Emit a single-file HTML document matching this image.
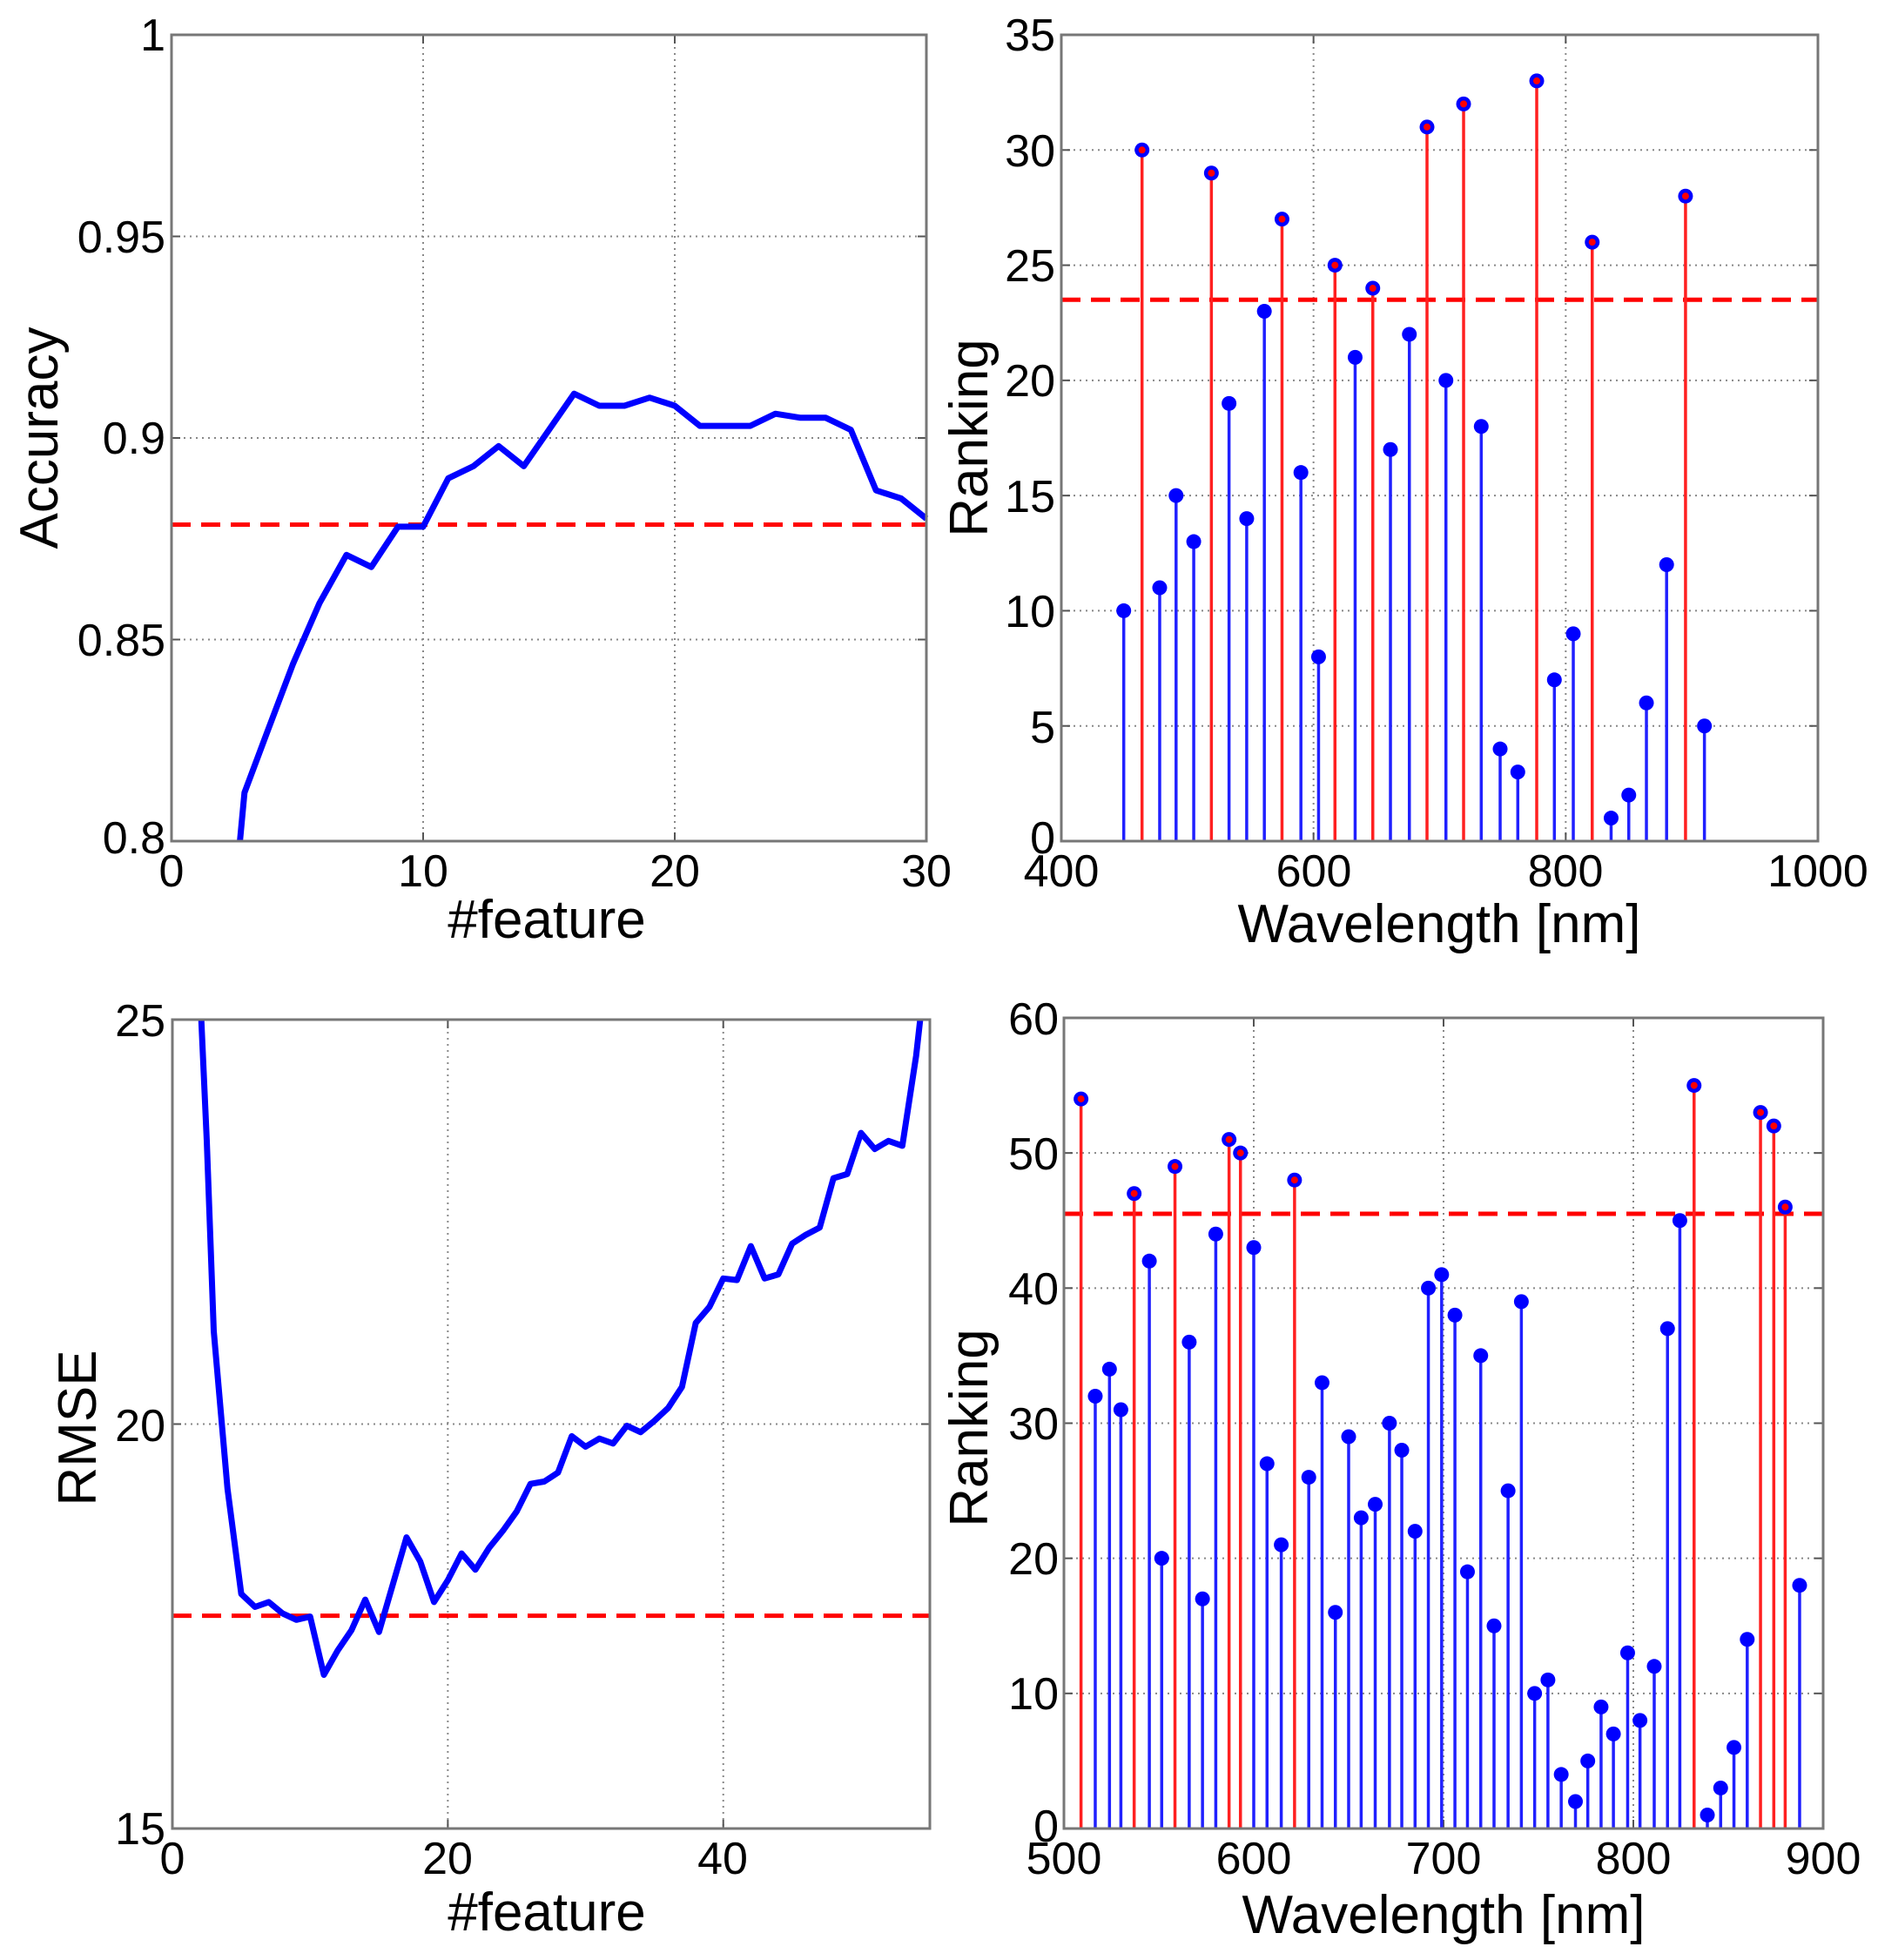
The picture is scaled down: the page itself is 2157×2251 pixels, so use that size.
<!DOCTYPE html>
<html><head><meta charset="utf-8"><style>
html,body{margin:0;padding:0;background:#fff}
svg{display:block}
text{font-family:"Liberation Sans",Arial,sans-serif;fill:#000}
.t{font-size:52px}
.l{font-size:62px}
</style></head><body>
<svg id="s" width="2157" height="2251" viewBox="0 0 2157 2251" xmlns="http://www.w3.org/2000/svg">
<rect width="2157" height="2251" fill="#fff"/>
<g id="g"></g>
<g class="t" text-anchor="end">
<text x="190" y="58">1</text>
<text x="190" y="290">0.95</text>
<text x="190" y="521">0.9</text>
<text x="190" y="753">0.85</text>
<text x="190" y="980">0.8</text>
</g>
<g class="t" text-anchor="middle">
<text x="197" y="1018">0</text><text x="486" y="1018">10</text><text x="775" y="1018">20</text><text x="1064" y="1018">30</text>
</g>
<text class="l" text-anchor="middle" transform="translate(66,503) rotate(-90)">Accuracy</text>
<text class="l" text-anchor="middle" x="628" y="1077">#feature</text>
<g class="t" text-anchor="end">
<text x="1212" y="58">35</text><text x="1212" y="191">30</text><text x="1212" y="323">25</text><text x="1212" y="455">20</text>
<text x="1212" y="588">15</text><text x="1212" y="720">10</text><text x="1212" y="853">5</text><text x="1212" y="980">0</text>
</g>
<g class="t" text-anchor="middle">
<text x="1219" y="1018">400</text><text x="1509" y="1018">600</text><text x="1798" y="1018">800</text><text x="2088" y="1018">1000</text>
</g>
<text class="l" text-anchor="middle" transform="translate(1134,503) rotate(-90)">Ranking</text>
<text class="l" text-anchor="middle" x="1653" y="1082">Wavelength [nm]</text>
<g class="t" text-anchor="end">
<text x="190" y="1190">25</text><text x="190" y="1655">20</text><text x="190" y="2118">15</text>
</g>
<g class="t" text-anchor="middle">
<text x="198" y="2152">0</text><text x="514" y="2152">20</text><text x="830" y="2152">40</text>
</g>
<text class="l" text-anchor="middle" transform="translate(110,1640) rotate(-90)">RMSE</text>
<text class="l" text-anchor="middle" x="628" y="2217">#feature</text>
<g class="t" text-anchor="end">
<text x="1216" y="1188">60</text><text x="1216" y="1343">50</text><text x="1216" y="1498">40</text><text x="1216" y="1653">30</text>
<text x="1216" y="1808">20</text><text x="1216" y="1963">10</text><text x="1216" y="2115">0</text>
</g>
<g class="t" text-anchor="middle">
<text x="1222" y="2152">500</text><text x="1440" y="2152">600</text><text x="1658" y="2152">700</text><text x="1876" y="2152">800</text><text x="2094" y="2152">900</text>
</g>
<text class="l" text-anchor="middle" transform="translate(1134,1640) rotate(-90)">Ranking</text>
<text class="l" text-anchor="middle" x="1658" y="2220">Wavelength [nm]</text>
</svg>
<script>
var g=document.getElementById('g'),NS='http://www.w3.org/2000/svg';
function el(t,a){var e=document.createElementNS(NS,t);for(var k in a)e.setAttribute(k,a[k]);g.appendChild(e);return e;}
function ax(L,R,T,B,x0,x1,y0,y1,xt,yt,xg,yg){
 var X=function(v){return L+(v-x0)/(x1-x0)*(R-L)},Y=function(v){return B-(v-y0)/(y1-y0)*(B-T)};
 xg.forEach(function(v){el('line',{x1:X(v),x2:X(v),y1:T,y2:B,stroke:'#888','stroke-width':2,'stroke-dasharray':'2,5'})});
 yg.forEach(function(v){el('line',{x1:L,x2:R,y1:Y(v),y2:Y(v),stroke:'#888','stroke-width':2,'stroke-dasharray':'2,5'})});
 xt.forEach(function(v){el('line',{x1:X(v),x2:X(v),y1:B,y2:B-10,stroke:'#555','stroke-width':2});el('line',{x1:X(v),x2:X(v),y1:T,y2:T+10,stroke:'#555','stroke-width':2})});
 yt.forEach(function(v){el('line',{x1:L,x2:L+10,y1:Y(v),y2:Y(v),stroke:'#555','stroke-width':2});el('line',{x1:R,x2:R-10,y1:Y(v),y2:Y(v),stroke:'#555','stroke-width':2})});
 return {X:X,Y:Y,L:L,R:R,T:T,B:B};
}
function frame(a){el('rect',{x:a.L,y:a.T,width:a.R-a.L,height:a.B-a.T,fill:'none',stroke:'#777','stroke-width':3});}
function line(a,pts){var d=pts.map(function(p,i){return (i?'L':'M')+a.X(p[0]).toFixed(1)+','+Math.max(a.T,a.Y(p[1])).toFixed(1)}).join('');
 el('path',{d:d,fill:'none',stroke:'#0000ff','stroke-width':7,'stroke-linejoin':'round'});}
function dash(a,v){el('line',{x1:a.L,x2:a.R,y1:a.Y(v),y2:a.Y(v),stroke:'#ff0000','stroke-width':5,'stroke-dasharray':'22,12'});}
function stems(a,data,th){data.forEach(function(p){var red=p[1]>th,x=a.X(p[0]),y=a.Y(p[1]);
 el('line',{x1:x,x2:x,y1:a.B,y2:y,stroke:red?'#ff2020':'#2020ff','stroke-width':3.5});});
 data.forEach(function(p){var red=p[1]>th,x=a.X(p[0]),y=a.Y(p[1]);
 el('circle',{cx:x,cy:y,r:8.5,fill:'#0000ff'});if(red)el('circle',{cx:x,cy:y,r:4,fill:'#ff0000'});});}
var a=ax(197,1064,40,966,0,30,0.8,1,[0,10,20,30],[0.8,0.85,0.9,0.95,1],[10,20],[0.85,0.9,0.95]);
var cp=[[2.72,0.8],[2.9,0.812],[3.8,0.827],[4.83,0.844],[5.88,0.859],[6.95,0.871],[7.94,0.868],[9,0.878],[10,0.878],[11,0.89],[12,0.893],[13,0.898],[14,0.893],[15,0.902],[16,0.911],[17,0.908],[18,0.908],[19,0.91],[20,0.908],[21,0.903],[22,0.903],[23,0.903],[24,0.906],[25,0.905],[26,0.905],[27,0.902],[28,0.887],[29,0.885],[30,0.88]];
dash(a,0.8785);line(a,cp);frame(a);
a=ax(1219,2088,40,966,400,1000,0,35,[400,600,800,1000],[0,5,10,15,20,25,30,35],[600,800],[5,10,15,20,25,30]);
var s1=[[449.5,10],[464,30],[478,11],[491,15],[505,13],[519,29],[533,19],[547,14],[561,23],[575,27],[590,16],[604,8],[617,25],[633,21],[647,24],[661,17],[676,22],[690,31],[705,20],[719,32],[733,18],[748,4],[762,3],[777,33],[791,7],[806,9],[821,26],[836,1],[850,2],[864,6],[880,12],[895,28],[910,5]];
dash(a,23.5);stems(a,s1,23.5);frame(a);
a=ax(198,1068,1171,2100,0,55,15,25,[0,20,40],[15,20,25],[20,40],[20]);
var rp=[[2.1,25.5],[2.5,23.5],[3,21.15],[4,19.2],[5,17.9],[6,17.74],[7,17.8],[8,17.66],[9,17.58],[10,17.62],[11,16.9],[12,17.2],[13,17.45],[14,17.83],[15,17.43],[17,18.6],[18,18.3],[19,17.8],[20,18.07],[21,18.4],[22,18.2],[23,18.47],[24,18.68],[25,18.92],[26,19.26],[27,19.29],[28,19.4],[29,19.85],[30,19.72],[31,19.82],[32,19.76],[33,19.98],[34,19.9],[35,20.04],[36,20.2],[37,20.46],[38,21.25],[39,21.45],[40,21.8],[41,21.78],[42,22.2],[43,21.8],[44,21.85],[45,22.23],[46,22.34],[47,22.43],[48,23.04],[49,23.09],[50,23.6],[51,23.4],[52,23.5],[53,23.44],[54,24.55],[54.3,25.3]];
dash(a,17.63);line(a,rp);frame(a);
a=ax(1222,2094,1169,2100,500,900,0,60,[500,600,700,800,900],[0,10,20,30,40,50,60],[600,700,800],[10,20,30,40,50]);
var s2=[[509,54],[516.5,32],[524,34],[530,31],[537,47],[545,42],[551.5,20],[558.5,49],[566,36],[573,17],[580,44],[587,51],[593,50],[600,43],[607,27],[614.5,21],[621.5,48],[629,26],[636,33],[643,16],[650,29],[656.6,23],[664,24],[671.5,30],[678,28],[685,22],[692,40],[699,41],[706,38],[712.6,19],[719.6,35],[726.6,15],[734,25],[741,39],[748,10],[755,11],[762,4],[769.5,2],[776,5],[783,9],[789.5,7],[797,13],[803.5,8],[811,12],[818,37],[824.5,45],[832,55],[839,1],[846,3],[853,6],[860,14],[867,53],[874,52],[880,46],[887.6,18]];
dash(a,45.5);stems(a,s2,45.5);frame(a);
</script>
</body></html>
